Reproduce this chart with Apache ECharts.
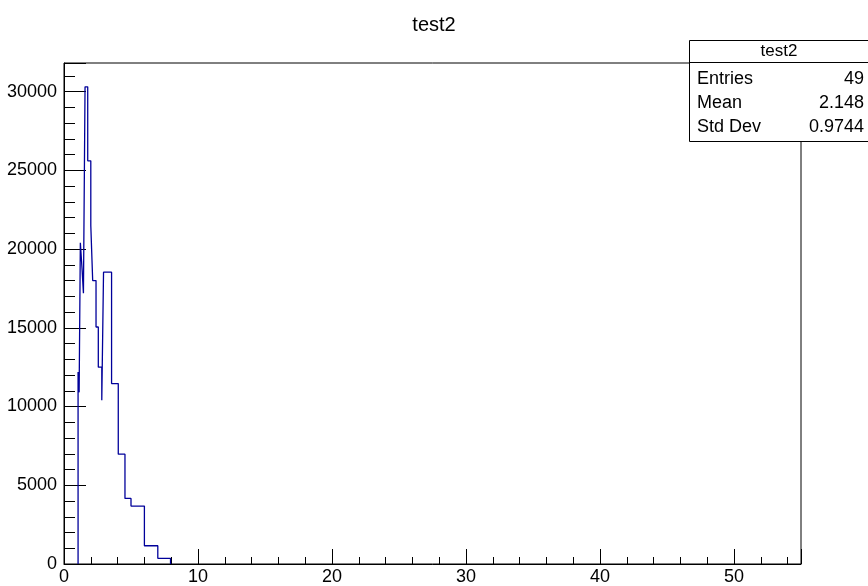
<!DOCTYPE html>
<html>
<head>
<meta charset="utf-8">
<script src="https://cdn.jsdelivr.net/npm/echarts@6/dist/echarts.min.js"></script>
<style>
    html, body { margin: 0; padding: 0; background: #fff; }
    #main { width: 868px; height: 586px; }
</style>
</head>
<body>
<div id="main"></div>
<script>
// bin edges and contents
var binEdges = [1.05, 1.13, 1.22, 1.35, 1.45, 1.57, 1.77, 2.0, 2.14, 2.39, 2.56, 2.82, 2.95, 3.55, 4.05, 4.55, 5.0, 6.0, 7.0, 7.95];
var binCounts = [12200, 10900, 20400, 18700, 17200, 30300, 25600, 21500, 18000, 15050, 12500, 10400, 18530, 11460, 6975, 4166, 3678, 1160, 360];

// stats box
var statNames = ['Entries', 'Mean', 'Std Dev'];
var statValues = ['49', '2.148', '0.9744'];

var fontName = '"Liberation Sans", Arial, sans-serif';

// outline of the histogram: one point per bin edge, step drawn by echarts
var outline = [[binEdges[0], 0]];
for (var i = 0; i < binCounts.length; i++) {
    outline.push([binEdges[i], binCounts[i]]);
}
outline.push([binEdges[binEdges.length - 1], 0]);

var stats = [
    {type: 'rect', left: 689, top: 40, shape: {width: 185, height: 101}, style: {fill: '#fff', stroke: '#000', lineWidth: 1}, z: 100},
    {type: 'line', shape: {x1: 689, y1: 62.5, x2: 874, y2: 62.5}, style: {stroke: '#000', lineWidth: 1}, z: 101},
    {type: 'text', x: 779, y: 51, style: {text: 'test2', font: '17px ' + fontName, fill: '#000', align: 'center', verticalAlign: 'middle'}, z: 101}
];
for (var j = 0; j < statNames.length; j++) {
    stats.push({type: 'text', x: 697, y: 79 + j * 24, style: {text: statNames[j], font: '18px ' + fontName, fill: '#000', align: 'left', verticalAlign: 'middle'}, z: 101});
    stats.push({type: 'text', x: 864, y: 79 + j * 24, style: {text: statValues[j], font: '18px ' + fontName, fill: '#000', align: 'right', verticalAlign: 'middle'}, z: 101});
}

var myChart = echarts.init(document.getElementById('main'));
var option = {
    animation: false,
    backgroundColor: '#fff',
    title: {
        text: 'test2',
        left: 'center',
        top: 10,
        textStyle: {fontFamily: fontName, fontSize: 20, fontWeight: 'normal', color: '#000'}
    },
    grid: {
        left: 64,
        right: 67,
        top: 63,
        bottom: 22,
        show: true,
        borderColor: '#000',
        borderWidth: 1
    },
    xAxis: {
        type: 'value',
        min: 0,
        max: 55,
        interval: 10,
        axisLine: {show: true, onZero: false, lineStyle: {color: '#000', width: 1}},
        axisTick: {show: true, inside: true, length: 15, lineStyle: {color: '#000'}},
        minorTick: {show: true, splitNumber: 5, length: 7, lineStyle: {color: '#000'}},
        splitLine: {show: false},
        axisLabel: {
            margin: 4, color: '#000', fontSize: 18, fontFamily: fontName, showMaxLabel: false,
            formatter: function (v) { return String(v); }
        }
    },
    yAxis: {
        type: 'value',
        min: 0,
        max: 31815,
        interval: 5000,
        axisLine: {show: true, lineStyle: {color: '#000', width: 1}},
        axisTick: {show: true, inside: true, length: 22, lineStyle: {color: '#000'}},
        minorTick: {show: true, splitNumber: 5, length: 11, lineStyle: {color: '#000'}},
        splitLine: {show: false},
        axisLabel: {
            margin: 7, color: '#000', fontSize: 18, fontFamily: fontName, showMaxLabel: false,
            formatter: function (v) { return String(v); }
        }
    },
    series: [
        {
            type: 'line',
            step: 'end',
            data: outline,
            symbol: 'none',
            lineStyle: {color: '#00009a', width: 1.3},
            silent: true
        }
    ],
    graphic: stats
};
myChart.setOption(option);
</script>
</body>
</html>
